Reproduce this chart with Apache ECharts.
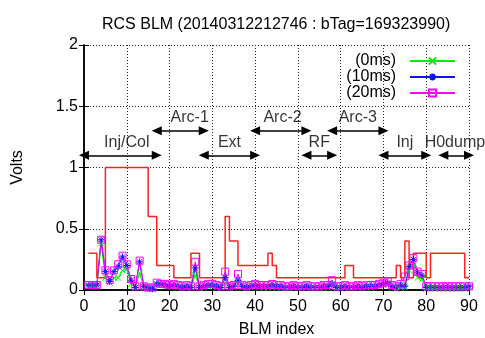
<!DOCTYPE html>
<html>
<head>
<meta charset="utf-8">
<script src="https://cdn.jsdelivr.net/npm/echarts@6/dist/echarts.min.js"></script>
<style>
  html, body { margin: 0; padding: 0; background: #fff; }
  #chart { width: 485px; height: 338px; }
</style>
</head>
<body>
<div id="chart"></div>
<script>
// BLM indices 1..90
const blmIndex = [];
for (let i = 1; i <= 90; i++) blmIndex.push(i);

// Loss signal (Volts) per BLM at three timings
const volts0ms = [
  0.03, 0.03, 0.03, 0.38, 0.10, 0.06, 0.10, 0.10, 0.16, 0.17,
  0.05, 0.02, 0.14, 0.02, 0.01, 0.01, 0.04, 0.04, 0.03, 0.03,
  0.03, 0.02, 0.02, 0.02, 0.02, 0.12, 0.02, 0.02, 0.03, 0.03,
  0.02, 0.02, 0.06, 0.02, 0.02, 0.05, 0.02, 0.02, 0.02, 0.03,
  0.02, 0.02, 0.02, 0.03, 0.02, 0.02, 0.02, 0.02, 0.02, 0.02,
  0.02, 0.02, 0.02, 0.02, 0.02, 0.02, 0.02, 0.04, 0.01, 0.02,
  0.02, 0.02, 0.02, 0.02, 0.02, 0.02, 0.02, 0.03, 0.03, 0.04,
  0.04, 0.02, 0.01, 0.02, 0.02, 0.16, 0.22, 0.10, 0.09, 0.01,
  0.01, 0.01, 0.01, 0.01, 0.01, 0.01, 0.01, 0.01, 0.01, 0.02
];
const volts10ms = [
  0.04, 0.04, 0.04, 0.41, 0.15, 0.07, 0.15, 0.19, 0.27, 0.20,
  0.08, 0.02, 0.23, 0.03, 0.02, 0.01, 0.05, 0.05, 0.04, 0.03,
  0.04, 0.03, 0.02, 0.03, 0.02, 0.18, 0.02, 0.03, 0.04, 0.04,
  0.03, 0.02, 0.10, 0.02, 0.03, 0.08, 0.03, 0.02, 0.03, 0.04,
  0.03, 0.03, 0.03, 0.04, 0.03, 0.03, 0.02, 0.02, 0.03, 0.02,
  0.02, 0.03, 0.02, 0.02, 0.02, 0.03, 0.03, 0.05, 0.02, 0.02,
  0.03, 0.02, 0.02, 0.03, 0.02, 0.03, 0.03, 0.03, 0.04, 0.05,
  0.06, 0.03, 0.02, 0.04, 0.03, 0.19, 0.25, 0.14, 0.12, 0.02,
  0.02, 0.02, 0.02, 0.02, 0.02, 0.02, 0.02, 0.02, 0.02, 0.03
];
const volts20ms = [
  0.04, 0.04, 0.04, 0.41, 0.16, 0.08, 0.16, 0.21, 0.28, 0.21,
  0.09, 0.03, 0.24, 0.03, 0.02, 0.02, 0.06, 0.05, 0.05, 0.04,
  0.05, 0.04, 0.03, 0.04, 0.03, 0.23, 0.03, 0.04, 0.05, 0.05,
  0.04, 0.03, 0.15, 0.03, 0.04, 0.13, 0.04, 0.03, 0.04, 0.05,
  0.04, 0.04, 0.04, 0.05, 0.04, 0.04, 0.03, 0.03, 0.04, 0.03,
  0.03, 0.04, 0.03, 0.03, 0.03, 0.04, 0.04, 0.08, 0.03, 0.03,
  0.04, 0.03, 0.03, 0.04, 0.03, 0.04, 0.04, 0.04, 0.05, 0.06,
  0.07, 0.04, 0.03, 0.05, 0.11, 0.20, 0.26, 0.15, 0.13, 0.03,
  0.03, 0.03, 0.03, 0.03, 0.03, 0.03, 0.03, 0.03, 0.03, 0.03
];

// Alarm threshold: level starts at each break index and holds until the next
const thresholdIdx = [1, 3, 5, 15, 17, 21, 25, 27, 33, 34, 36, 43, 44, 45, 61, 63, 73, 74, 75, 76, 77, 80, 81, 89, 90];
const thresholdVal = [0.3, 0.1, 1.0, 0.6, 0.2, 0.1, 0.3, 0.1, 0.6, 0.4, 0.2, 0.3, 0.2, 0.1, 0.2, 0.1, 0.2, 0.1, 0.4, 0.1, 0.3, 0.1, 0.3, 0.1, 0.1];

// Ring sections
const sectionName  = ['Inj/Col', 'Arc-1', 'Ext', 'Arc-2', 'RF', 'Arc-3', 'Inj', 'H0dump'];
const sectionFrom  = [0, 17, 28, 40, 52, 58, 70, 84];
const sectionTo    = [17, 28, 40, 52, 58, 70, 80, 90];
const sectionLevel = [1.1, 1.3, 1.1, 1.3, 1.1, 1.3, 1.1, 1.1];
const sectionLabelX = [10, 24.7, 34, 46.4, 55, 64, 75, 86.7];

// Axis tick labels
const xTicks = [0, 10, 20, 30, 40, 50, 60, 70, 80, 90];
const yTicks = [0, 0.5, 1, 1.5, 2];

const FONT = 'Liberation Sans, Arial, Helvetica, sans-serif';

const pair = (xs, ys) => xs.map((x, i) => [x, ys[i]]);

const crossPath = 'path://M0,0L10,10M10,0L0,10';
const starPath = 'path://M5,0L5,10M0,5L10,5M1.5,1.5L8.5,8.5M8.5,1.5L1.5,8.5';
const squarePath = 'path://M0,0L10,0L10,10L0,10Z';

function dataSeries(name, values, color, symbol, size) {
  return {
    name: name,
    type: 'line',
    data: pair(blmIndex, values),
    showAllSymbol: true,
    symbol: symbol,
    symbolSize: size,
    lineStyle: { color: color, width: 1 },
    itemStyle: { color: 'rgba(0,0,0,0)', borderColor: color, borderWidth: 1 },
    emphasis: { disabled: true },
    animation: false,
    z: 3
  };
}

const chart = echarts.init(document.getElementById('chart'), null, { renderer: 'canvas' });

chart.setOption({
  backgroundColor: '#fff',
  animation: false,
  title: {
    text: 'RCS BLM (20140312212746 : bTag=169323990)',
    left: 97,
    top: 12,
    textStyle: { fontFamily: FONT, fontSize: 16, fontWeight: 'normal', color: '#000' }
  },
  legend: {
    data: ['(0ms)', '(10ms)', '(20ms)'],
    orient: 'vertical',
    align: 'right',
    right: 24,
    top: 48,
    itemWidth: 45,
    itemHeight: 9,
    itemGap: 0,
    selectedMode: false,
    formatter: name => name + '\u00a0\u00a0',
    textStyle: { fontFamily: FONT, fontSize: 16, color: '#000', lineHeight: 16 }
  },
  grid: { left: 84, right: 16, top: 45, bottom: 48, outerBoundsMode: 'none', containLabel: false },
  xAxis: [{
    type: 'value', min: 0, max: 90, interval: 10,
    name: 'BLM index', nameLocation: 'middle', nameGap: 32,
    nameTextStyle: { fontFamily: FONT, fontSize: 16, color: '#000' },
    axisLine: { show: true, onZero: false, lineStyle: { color: '#000', width: 1.5 } },
    axisTick: { inside: true, length: 5, lineStyle: { color: '#000' } },
    axisLabel: { fontFamily: FONT, fontSize: 16, color: '#000', margin: 9,
      formatter: v => xTicks.includes(v) ? String(v) : '' },
    splitLine: { show: true, lineStyle: { color: '#222', width: 1, type: [1, 2] } }
  }, {
    type: 'value', min: 0, max: 90, interval: 10, position: 'top',
    axisLine: { show: true, lineStyle: { color: '#000', width: 1.5 } },
    axisTick: { inside: true, length: 5, lineStyle: { color: '#000' } },
    axisLabel: { show: false }, splitLine: { show: false }
  }],
  yAxis: [{
    type: 'value', min: 0, max: 2, interval: 0.5,
    name: 'Volts', nameLocation: 'middle', nameGap: 58, nameRotate: 90,
    nameTextStyle: { fontFamily: FONT, fontSize: 16, color: '#000' },
    axisLine: { show: true, onZero: false, lineStyle: { color: '#000', width: 1.5 } },
    axisTick: { inside: true, length: 5, lineStyle: { color: '#000' } },
    axisLabel: { fontFamily: FONT, fontSize: 16, color: '#000', margin: 6,
      formatter: v => yTicks.includes(v) ? String(v) : '' },
    splitLine: { show: true, lineStyle: { color: '#222', width: 1, type: [1, 2] } }
  }, {
    type: 'value', min: 0, max: 2, interval: 0.5, position: 'right',
    axisLine: { show: true, lineStyle: { color: '#000', width: 1.5 } },
    axisTick: { inside: true, length: 5, lineStyle: { color: '#000' } },
    axisLabel: { show: false }, splitLine: { show: false }
  }],
  series: [
    {
      name: 'threshold',
      type: 'line',
      step: 'end',
      data: pair(thresholdIdx, thresholdVal),
      symbol: 'none',
      lineStyle: { color: '#ff2020', width: 1.5 },
      emphasis: { disabled: true },
      z: 2
    },
    dataSeries('(0ms)', volts0ms, '#00ee00', crossPath, 6),
    dataSeries('(10ms)', volts10ms, '#1010ff', starPath, 7),
    dataSeries('(20ms)', volts20ms, '#ff00ff', squarePath, 7),
    {
      name: 'sections',
      type: 'line',
      data: [],
      markLine: {
        silent: true,
        animation: false,
        symbol: ['triangle', 'triangle'],
        symbolSize: [9, 10],
        label: { show: false },
        lineStyle: { color: '#000', width: 1.5, type: 'solid' },
        data: sectionName.map((n, i) => [
          { coord: [sectionFrom[i], sectionLevel[i]] },
          { coord: [sectionTo[i], sectionLevel[i]] }
        ])
      }
    },
    {
      name: 'sectionLabels',
      type: 'scatter',
      symbolSize: 0,
      silent: true,
      clip: false,
      data: sectionName.map((n, i) => ({ name: n, value: [sectionLabelX[i], sectionLevel[i]] })),
      label: {
        show: true, position: 'inside', offset: [0, -13],
        formatter: '{b}',
        fontFamily: FONT, fontSize: 16, color: '#000'
      }
    }
  ]
});
</script>
</body>
</html>
